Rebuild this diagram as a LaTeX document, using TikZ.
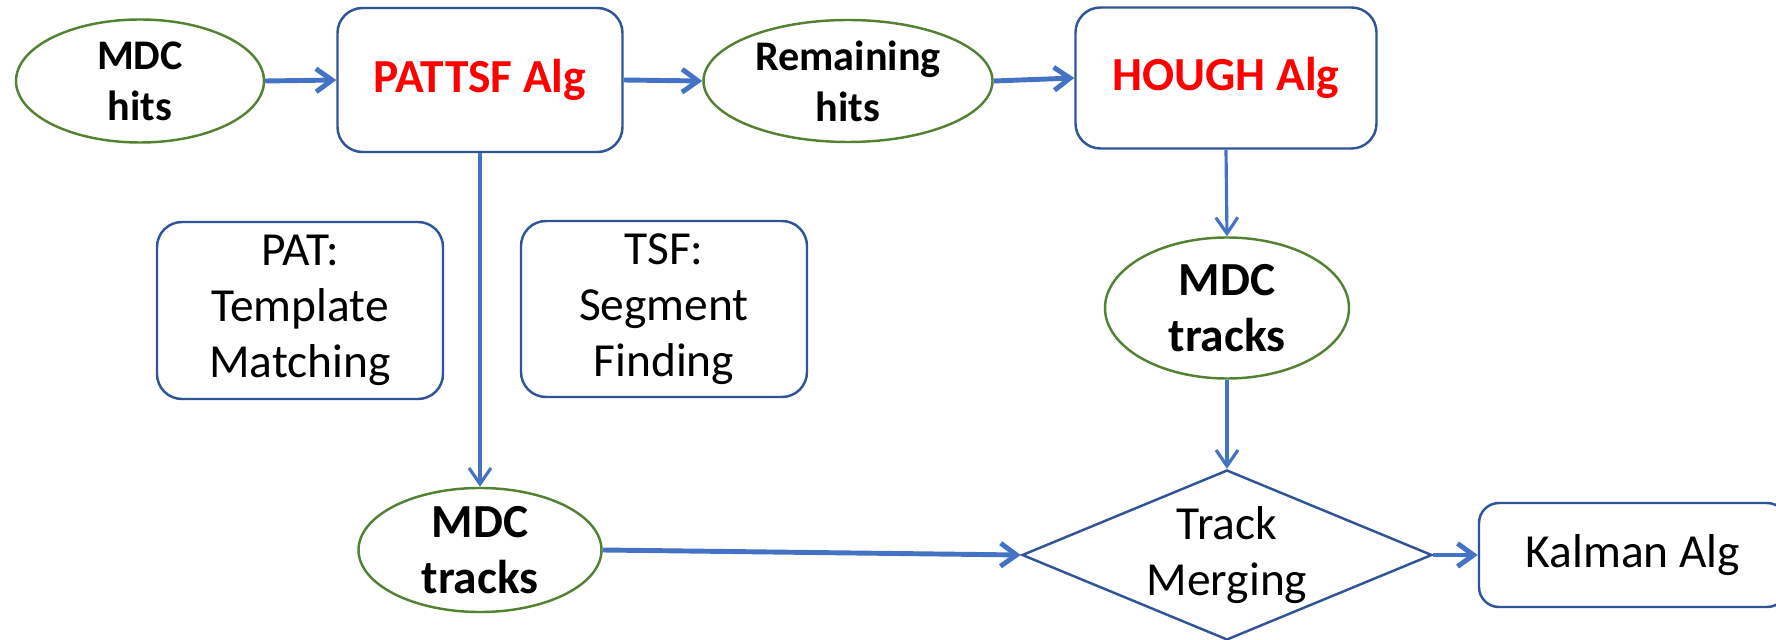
\documentclass[tikz,border=0pt]{standalone}
\usepackage{fontspec}
\setmainfont{Carlito}
\usetikzlibrary{shapes.geometric,arrows.meta}

\definecolor{arrowblue}{HTML}{4472C4}
\definecolor{boxblue}{HTML}{2F5597}
\definecolor{bubblegreen}{HTML}{548235}
\definecolor{algred}{HTML}{FF0000}

\newcommand{\bigtext}{\fontsize{27pt}{32pt}\selectfont}
\newcommand{\smalltext}{\fontsize{24pt}{29pt}\selectfont}

\begin{document}
\begin{tikzpicture}[
    algbox/.style={draw=boxblue, line width=1.4pt, rounded corners=0.5cm,
      align=center, inner sep=0pt, font=\bigtext},
    databubble/.style={draw=bubblegreen, line width=1.4pt, ellipse,
      align=center, inner sep=0pt, font=\bfseries\bigtext},
    mergebox/.style={draw=boxblue, line width=1.4pt, diamond, aspect=2.4,
      align=center, inner sep=0pt, font=\bigtext},
    flow/.style={draw=arrowblue, line width=2.8pt,
      -{Straight Barb[length=3.2mm, width=4.6mm]}},
    flowthin/.style={draw=arrowblue, line width=1.8pt,
      -{Straight Barb[length=3.2mm, width=4.4mm]}}
  ]
        \clip (0.0, 0.0) rectangle (35.52, 12.78);

        % top row
        \node [databubble, minimum width=4.96cm, minimum height=2.46cm, font=\bfseries\smalltext]
          (hits) at (2.80, 11.16) {MDC\\hits};
        \node [algbox, minimum width=5.70cm, minimum height=2.88cm, font=\bfseries\bigtext, text=algred]
          (pattsf) at (9.60, 11.18) {PATTSF Alg};
        \node [databubble, minimum width=5.78cm, minimum height=2.44cm, font=\bfseries\smalltext]
          (remain) at (16.96, 11.16) {Remaining\\hits};
        \node [algbox, minimum width=6.02cm, minimum height=2.82cm, font=\bfseries\bigtext, text=algred]
          (hough) at (24.52, 11.22) {HOUGH Alg};

        % middle row
        \node [algbox, minimum width=5.72cm, minimum height=3.54cm]
          (pat) at (6.00, 6.57) {PAT:\\Template\\Matching};
        \node [algbox, minimum width=5.72cm, minimum height=3.52cm]
          (tsf) at (13.28, 6.60) {TSF:\\Segment\\Finding};
        \node [databubble, minimum width=4.88cm, minimum height=2.82cm]
          (tracksR) at (24.54, 6.62) {MDC\\tracks};

        % bottom row
        \node [databubble, minimum width=4.86cm, minimum height=2.44cm]
          (tracksL) at (9.60, 1.78) {MDC\\tracks};
        \node [mergebox, minimum width=8.20cm, minimum height=3.40cm]
          (merge) at (24.54, 1.68) {Track\\Merging};
        \node [algbox, rounded corners=0.4cm, minimum width=6.16cm, minimum height=2.08cm]
          (kalman) at (32.66, 1.68) {Kalman Alg};

        % connectors
        \draw [flow] (hits.east) -- (pattsf.west);
        \draw [flow] (pattsf.east) -- (remain.west);
        \draw [flow] (remain.east) -- (hough.west);
        \draw [flowthin] (pattsf.south) -- (tracksL.north);
        \draw [flowthin] (hough.south) -- (tracksR.north);
        \draw [flowthin] (tracksR.south) -- (merge.north);
        \draw [flow] (tracksL.east) -- (merge.west);
        \draw [flow] (merge.east) -- (kalman.west);
      \end{tikzpicture}
\end{document}
